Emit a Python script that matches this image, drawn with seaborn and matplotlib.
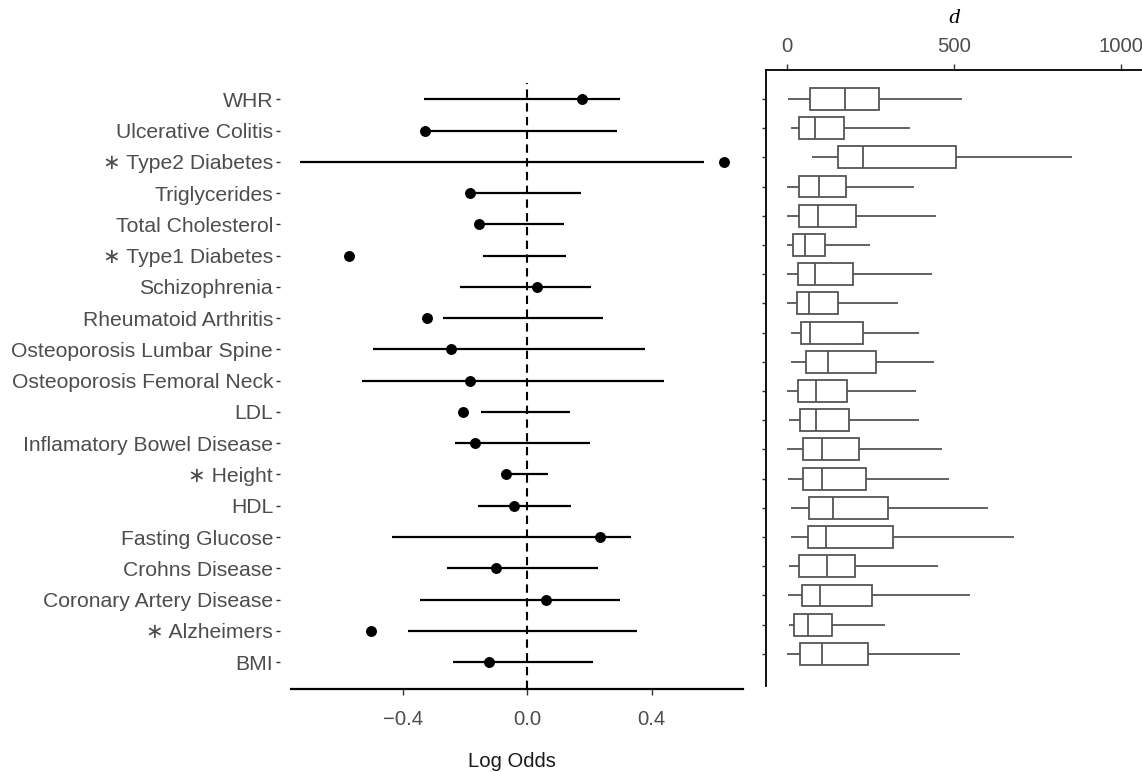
import matplotlib
matplotlib.use("Agg")
import matplotlib.pyplot as plt
import numpy as np
import pandas as pd
import seaborn as sns

# traits on the forest plot, top to bottom
traits = ["WHR", "Ulcerative Colitis", "Type2 Diabetes", "Triglycerides",
          "Total Cholesterol", "Type1 Diabetes", "Schizophrenia",
          "Rheumatoid Arthritis", "Osteoporosis Lumbar Spine",
          "Osteoporosis Femoral Neck", "LDL", "Inflamatory Bowel Disease",
          "Height", "HDL", "Fasting Glucose", "Crohns Disease",
          "Coronary Artery Disease", "Alzheimers", "BMI"]
starred = ["Type2 Diabetes", "Type1 Diabetes", "Height", "Alzheimers"]

# observed log odds and null interval
log_odds = [0.177, -0.328, 0.632, -0.182, -0.155, -0.571, 0.032, -0.320,
            -0.246, -0.183, -0.206, -0.167, -0.069, -0.042, 0.233, -0.099,
            0.062, -0.502, -0.122]
null_lo = [-0.330, -0.320, -0.730, -0.180, -0.141, -0.142, -0.214, -0.270,
           -0.495, -0.530, -0.148, -0.230, -0.068, -0.157, -0.435, -0.258,
           -0.344, -0.382, -0.237]
null_hi = [0.298, 0.289, 0.569, 0.174, 0.119, 0.124, 0.205, 0.243,
           0.380, 0.441, 0.139, 0.202, 0.066, 0.141, 0.335, 0.228,
           0.298, 0.354, 0.212]

# five-number summaries of d for the box panel (20 rows)
d_min = [4, 11, 74, 0, 0, 0, 0, 0, 13, 13, 0, 6, 0, 4, 12, 12, 6, 4, 6, 0]
d_q1 = [68, 36, 154, 37, 36, 18, 33, 29, 41, 56, 34, 38, 47, 49, 65, 64, 36, 44, 22, 39]
d_med = [173, 85, 228, 97, 94, 54, 84, 65, 68, 124, 88, 87, 106, 104, 138, 118, 120, 98, 63, 105]
d_q3 = [274, 172, 506, 178, 207, 114, 199, 154, 226, 266, 180, 186, 216, 237, 302, 316, 204, 255, 134, 243]
d_max = [524, 369, 853, 381, 447, 248, 434, 332, 394, 441, 387, 396, 464, 485, 603, 679, 453, 547, 293, 519]

sns.set_theme(style="white")
plt.rcParams["font.family"] = ["Liberation Sans", "DejaVu Sans"]

W, H = 1142, 772
fig = plt.figure(figsize=(W / 100, H / 100), dpi=100)
grey = "#4d4d4d"

# ---- left: forest plot
ax1 = fig.add_axes([280 / W, (H - 689) / H, 463 / W, 606 / H])
labels = [("\u2217 " + t) if t in starred else t for t in traits]
ax1.hlines(labels, null_lo, null_hi, color="black", lw=1.6)
sns.scatterplot(x=log_odds, y=labels, color="black", s=62, linewidth=0, ax=ax1, zorder=3)
ax1.axvline(0, color="black", lw=1.5, ls=(0, (4, 2.6)), zorder=1)
ax1.set_xlim(-0.794, 0.694)
ax1.set_ylim(18.86, -0.52)
ax1.set_xticks([-0.4, 0.0, 0.4])
ax1.set_xticklabels(["\u22120.4", "0.0", "0.4"])
for s in ["left", "top", "right"]:
    ax1.spines[s].set_visible(False)
ax1.spines["bottom"].set_color("black")
ax1.spines["bottom"].set_linewidth(1.6)
ax1.spines["bottom"].set_bounds(-0.759, 0.694)
ax1.tick_params(axis="x", bottom=True, length=4, width=1, color="#333333",
                labelsize=14.6, labelcolor=grey, pad=11)
ax1.tick_params(axis="y", left=True, length=3, width=1, color="#333333",
                labelsize=15.2, labelcolor=grey, pad=2)
ax1.set_xlabel("Log Odds", fontsize=14.6, color="#1a1a1a", labelpad=17)
ax1.set_ylabel("")

# ---- right: box plots of d
rows = ["r%d" % (i + 1) for i in range(len(d_med))]
box_df = pd.DataFrame({
    "row": np.repeat(rows, 5),
    "d": np.column_stack([d_min, d_q1, d_med, d_q3, d_max]).ravel(),
})
ax2 = fig.add_axes([766 / W, (H - 686) / H, (W - 766) / W, 616 / H])
sns.boxplot(data=box_df, x="d", y="row", order=rows, orient="h", whis=(0, 100),
            width=0.75, color="white", linecolor="#555555", linewidth=1.3,
            fliersize=0, capwidths=0, ax=ax2)
ax2.set_xlim(-63, 1063)
ax2.set_ylim(20.1, -0.99)
ax2.xaxis.set_ticks_position("top")
ax2.xaxis.set_label_position("top")
ax2.set_xticks([0, 500, 1000])
ax2.set_yticklabels([])
ax2.set_ylabel("")
for s in ["bottom", "right"]:
    ax2.spines[s].set_visible(False)
for s in ["left", "top"]:
    ax2.spines[s].set_color("black")
    ax2.spines[s].set_linewidth(1.3)
ax2.tick_params(axis="x", top=True, bottom=False, length=4, width=1, color="#333333",
                labelsize=14.6, labelcolor=grey, pad=6)
ax2.tick_params(axis="y", left=True, length=3, width=1, color="#333333")
ax2.set_xlabel("d", fontsize=16, family="Liberation Serif", style="italic",
               color="black", labelpad=10)

fig.savefig("out.png", dpi=100)
